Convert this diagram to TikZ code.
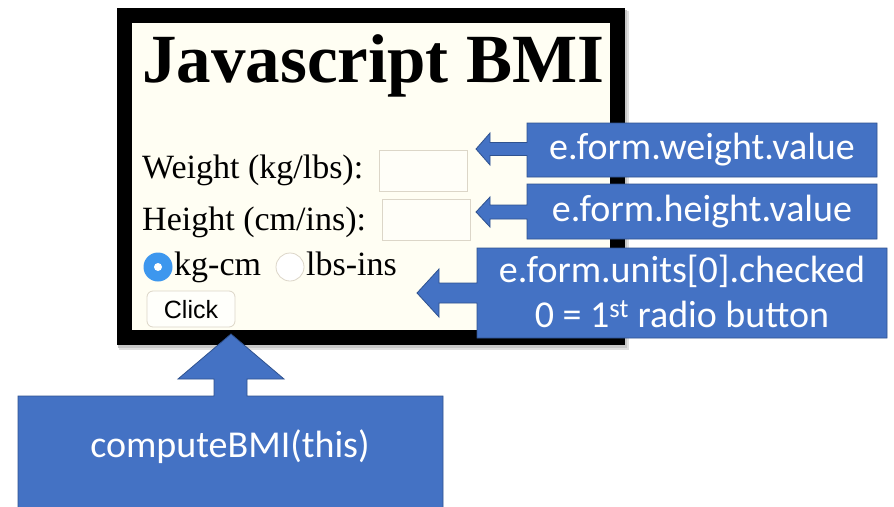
\documentclass[tikz,border=0pt]{standalone}
\usepackage{fontspec}
\setmainfont{Liberation Serif}
\newfontfamily\calibri{Carlito}
\newfontfamily\arialf{Liberation Sans}
\definecolor{calloutblue}{HTML}{4472C4}
\definecolor{calloutedge}{HTML}{2F528F}
\definecolor{cream}{HTML}{FFFEF3}
\definecolor{radioblue}{HTML}{3D97EE}
\definecolor{fieldedge}{HTML}{DCD6C8}
\tikzset{
  callout/.style={fill=calloutblue, draw=calloutedge, line width=0.8pt, line join=miter},
  ctext/.style={text=white, font=\calibri\fontsize{38}{38}\selectfont, inner sep=0},
  formtext/.style={anchor=base west, inner sep=0, font=\fontsize{34}{34}\selectfont},
  field/.style={fill=cream!60!white, draw=fieldedge, line width=0.8pt},
}
\begin{document}
\begin{tikzpicture}[x=1pt,y=-1pt]
\useasboundingbox (0,0) rectangle (894,506);
\fill[white] (0,0) rectangle (894,506);
% shadow
\fill[black!12] (119,11) rectangle (629,350);
\fill[black!22] (118,10) rectangle (627,348);
% frame
\fill[black] (117,8) rectangle (625,345);
\fill[cream] (132,23) rectangle (610,330);
% title
\node[anchor=base west, inner sep=0, font=\bfseries\fontsize{69}{69}\selectfont] (title) at (142,82) {Javascript BMI};
% form
\node[formtext] (wlab) at (142,178) {Weight (kg/lbs):};
\node[formtext] (hlab) at (142,230) {Height (cm/ins):};
\draw[field] (379,150) rectangle (467,191);
\draw[field] (382,199) rectangle (470,240);
% radios
\fill[radioblue] (158,267) circle[radius=14.5];
\fill[white] (158,267) circle[radius=4];
\draw[fieldedge, fill=white, line width=0.8pt] (290,267) circle[radius=14];
\node[formtext] (kg) at (174,275) {kg-cm};
\node[formtext] (lbs) at (306,275) {lbs-ins};
% button
\draw[fill=white!70!cream, draw=fieldedge, line width=0.8pt, rounded corners=6pt] (147,291) rectangle (235,327);
\node[inner sep=0, font=\arialf\fontsize{25}{25}\selectfont] (click) at (191,310) {Click};
% callout weight
\draw[callout] (527,123) -- (877,123) -- (877,177) -- (527,177) -- (527,155.5) -- (490,155.5) -- (490,165) -- (476,149) -- (490,133) -- (490,142.5) -- (527,142.5) -- cycle;
\node[ctext] (cw) at (702,150) {e.form.weight.value};
% callout height
\draw[callout] (527,184) -- (877,184) -- (877,239) -- (527,239) -- (527,219) -- (490,219) -- (490,227) -- (476,212) -- (490,197) -- (490,205) -- (527,205) -- cycle;
\node[ctext] (ch) at (702,212) {e.form.height.value};
% callout units
\draw[callout] (477,248) -- (887,248) -- (887,338) -- (477,338) -- (477,303) -- (439,303) -- (439,317) -- (417,293) -- (439,269) -- (439,283) -- (477,283) -- cycle;
\node[ctext, anchor=base] (cu1) at (682,282) {e.form.units[0].checked};
\node[ctext, anchor=base] (cu2) at (682,327) {0 = 1\textsuperscript{st} radio button};
% callout bottom
\draw[callout] (18,396) -- (214,396) -- (214,379) -- (178,379) -- (231,334) -- (284,379) -- (247,379) -- (247,396) -- (443,396) -- (443,510) -- (18,510) -- cycle;
\node[ctext, anchor=base] (cb) at (230,457) {computeBMI(this)};
\end{tikzpicture}
\end{document}
